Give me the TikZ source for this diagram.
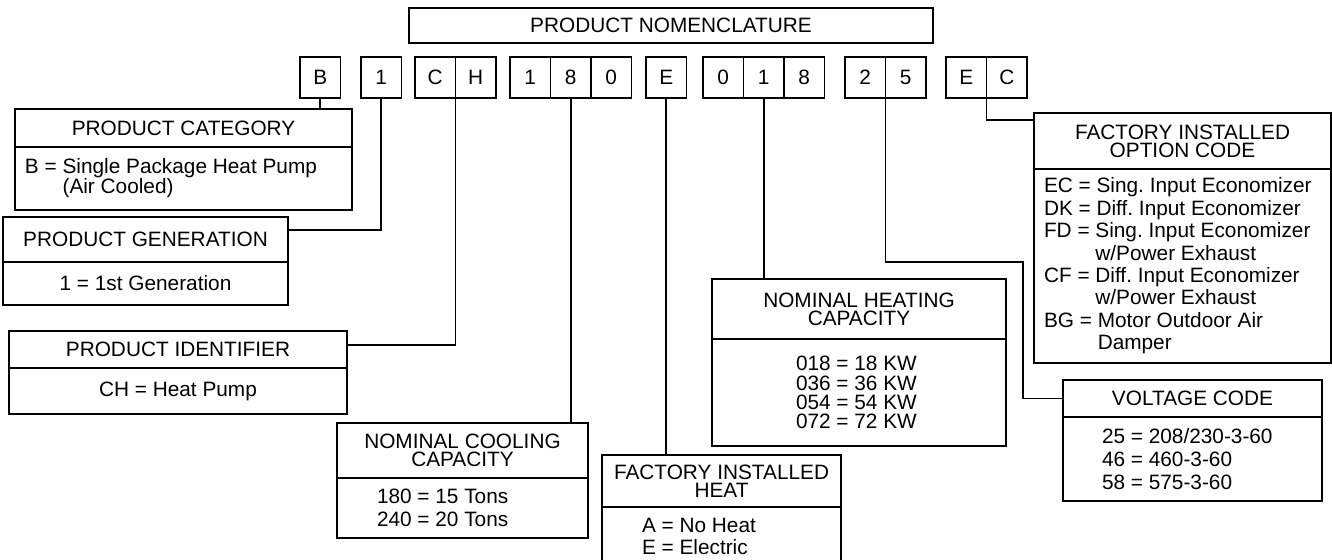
\documentclass[tikz,border=0pt]{standalone}
\usepackage{fontspec}
\setmainfont{Liberation Sans}
\usetikzlibrary{positioning}
\frenchspacing

\begin{document}
\begin{tikzpicture}[x=0.5pt, y=-0.5pt, line width=0.8pt,
  every node/.style={inner sep=0pt, outer sep=0pt, font=\fontsize{10.4}{11.2}\selectfont},
  cell/.style={draw, minimum width=20.25pt, minimum height=20.5pt},
  head/.style={draw, anchor=north west, align=center, font=\fontsize{10.4}{9}\selectfont},
  body/.style={draw, anchor=north, align=flush left}]
\useasboundingbox (0,0) rectangle (1332,559);

\node[draw, anchor=north west, minimum width=262pt, minimum height=17.5pt] (title) at (409,8) {PRODUCT NOMENCLATURE};

% code letters
\node[cell, anchor=north west] (cB) at (300,57) {B};
\node[cell, anchor=north west] (cGen) at (361,57) {1};
\node[cell, anchor=north west] (cC) at (415,57) {C};
\node[cell, right=0pt of cC] (cH) {H};
\node[cell, anchor=north west] (c1) at (510,57) {1};
\node[cell, right=0pt of c1] (c8) {8};
\node[cell, right=0pt of c8] (c0) {0};
\node[cell, anchor=north west] (cE) at (646,57) {E};
\node[cell, anchor=north west] (h0) at (703,57) {0};
\node[cell, right=0pt of h0] (h1) {1};
\node[cell, right=0pt of h1] (h8) {8};
\node[cell, anchor=north west] (v2) at (845,57) {2};
\node[cell, right=0pt of v2] (v5) {5};
\node[cell, anchor=north west] (oE) at (946,57) {E};
\node[cell, right=0pt of oE] (oC) {C};

% legend boxes
\node[head, minimum width=168.5pt, minimum height=19pt] (cat) at (15,109) {PRODUCT CATEGORY};
\node[body, below=0pt of cat, minimum width=168.5pt, minimum height=31.5pt,
  text width=158.5pt, inner xsep=5pt, font=\fontsize{10.4}{10}\selectfont] (catB)
  {B = Single Package Heat Pump\\\phantom{B = }(Air Cooled)};

\node[head, minimum width=142.5pt, minimum height=22.5pt] (gen) at (3,217) {PRODUCT GENERATION};
\node[body, below=0pt of gen, minimum width=142.5pt, minimum height=21.5pt, align=center] (genB)
  {1 = 1st Generation};

\node[head, minimum width=169pt, minimum height=18.5pt] (ident) at (9,331) {PRODUCT IDENTIFIER};
\node[body, below=0pt of ident, minimum width=169pt, minimum height=23pt, align=center] (identB)
  {CH = Heat Pump};

\node[head, minimum width=125.5pt, minimum height=27.5pt] (cool) at (337,423) {NOMINAL COOLING\\CAPACITY};
\node[body, below=0pt of cool, minimum width=125.5pt, minimum height=30pt,
  text width=85.5pt, inner xsep=20pt, font=\fontsize{10.4}{11.5}\selectfont] (coolB)
  {180 = 15 Tons\\240 = 20 Tons};

\node[head, minimum width=119.5pt, minimum height=26pt] (heat) at (602,455) {FACTORY INSTALLED\\HEAT};
\node[body, below=0pt of heat, minimum width=119.5pt, minimum height=29pt,
  text width=79.5pt, inner xsep=20pt, font=\fontsize{10.4}{11}\selectfont] (heatB)
  {A = No Heat\\E = Electric};

\node[head, minimum width=147pt, minimum height=30pt] (heating) at (712,279) {NOMINAL HEATING\\CAPACITY};
\node[body, below=0pt of heating, minimum width=147pt, minimum height=53.5pt,
  text width=63pt, inner xsep=42pt, font=\fontsize{10.4}{9.6}\selectfont] (heatingB)
  {018 = 18 KW\\036 = 36 KW\\054 = 54 KW\\072 = 72 KW};

\node[head, minimum width=148.5pt, minimum height=28pt] (opt) at (1034,113) {FACTORY INSTALLED\\OPTION CODE};
\node[body, below=0pt of opt, minimum width=148.5pt, minimum height=97pt,
  text width=138.5pt, inner xsep=5pt] (optB)
  {EC = Sing. Input Economizer\\
   DK = Diff. Input Economizer\\
   FD = Sing. Input Economizer\\
   \phantom{FD = }w/Power Exhaust\\
   CF = Diff. Input Economizer\\
   \phantom{CF = }w/Power Exhaust\\
   BG = Motor Outdoor Air\\
   \phantom{BG = }Damper};

\node[head, minimum width=129.5pt, minimum height=18.5pt] (volt) at (1063,380) {VOLTAGE CODE};
\node[body, below=0pt of volt, minimum width=129.5pt, minimum height=42pt,
  text width=90.5pt, inner xsep=19.5pt, font=\fontsize{10.4}{11.5}\selectfont] (voltB)
  {25 = 208/230-3-60\\46 = 460-3-60\\58 = 575-3-60};

% leader lines
\draw (cB.south) -- (cB.south |- cat.north);
\draw (cGen.south) |- ([yshift=-6.5pt]gen.north east);
\draw (cC.south east) |- ([yshift=-7pt]ident.north east);
\draw (c8.south) -- (c8.south |- cool.north);
\draw (cE.south) -- (cE.south |- heat.north);
\draw (h1.south) -- (h1.south |- heating.north);
\coordinate (vbend) at (1023,262);
\draw (v2.south east) |- (vbend) |- (volt.west);
\draw (oE.south east) |- ([yshift=-3.5pt]opt.north west);
\end{tikzpicture}
\end{document}
